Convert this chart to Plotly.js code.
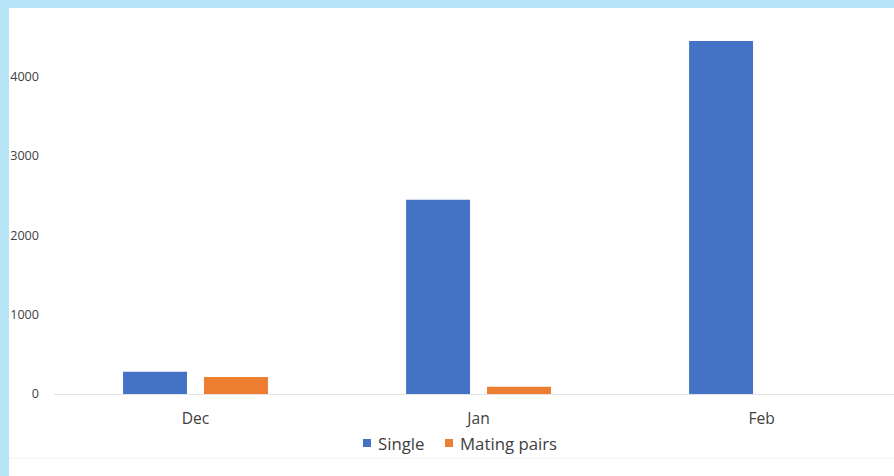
<!DOCTYPE html>
<html>
<head>
<meta charset="utf-8">
<script src="https://cdn.plot.ly/plotly-3.0.1.min.js"></script>
<style>
  html, body { margin: 0; padding: 0; }
  body { width: 894px; height: 476px; background: #b8e4f8; overflow: hidden; position: relative; }
  #frame { position: absolute; left: 9px; top: 8px; width: 885px; height: 468px; background: #ffffff; overflow: hidden; }
  #chart { position: absolute; left: 0; top: 0; width: 885px; height: 468px; }
</style>
</head>
<body>
<div id="frame"><div id="chart"></div></div>
<script>
// Monthly counts of single individuals and mating pairs
const months = ["Dec", "Jan", "Feb"];
const singleCounts = [280, 2450, 4450];
const matingPairCounts = [215, 90, 0];
const yTicks = [0, 1000, 2000, 3000, 4000];
const seriesNames = ["Single", "Mating pairs"];
const seriesColors = ["#4472c4", "#ed7d31"];

const textColor = "#404040";
const fontFamily = "'Open Sans', 'Liberation Sans', sans-serif";

// Plot-area geometry (pixels inside the chart div)
const W = 885, H = 468;
const M = { l: 45, r: 0, t: 0, b: 82 };
const plotW = W - M.l - M.r;
const plotH = H - M.t - M.b;
const toPaperX = px => (px - M.l) / plotW;
const toPaperY = py => (M.t + plotH - py) / plotH;

const traces = [
  {
    type: "bar",
    name: seriesNames[0],
    x: months,
    y: singleCounts,
    marker: { color: seriesColors[0] }
  },
  {
    type: "bar",
    name: seriesNames[1],
    x: months,
    y: matingPairCounts,
    marker: { color: seriesColors[1] }
  }
];

// Legend row below the axis: small square swatch followed by the series name
const legendRow = { y: 435, swatch: 8, items: [354, 436], textGap: 6 };
const legendShapes = seriesNames.map((name, i) => ({
  type: "rect",
  xref: "paper",
  yref: "paper",
  x0: toPaperX(legendRow.items[i]),
  x1: toPaperX(legendRow.items[i] + legendRow.swatch),
  y0: toPaperY(legendRow.y - legendRow.swatch / 2),
  y1: toPaperY(legendRow.y + legendRow.swatch / 2),
  fillcolor: seriesColors[i],
  line: { width: 0 }
}));
const legendLabels = seriesNames.map((name, i) => ({
  xref: "paper",
  yref: "paper",
  x: toPaperX(legendRow.items[i] + legendRow.swatch + legendRow.textGap),
  y: toPaperY(legendRow.y),
  xanchor: "left",
  yanchor: "middle",
  text: name,
  showarrow: false,
  borderpad: 0,
  font: { size: 16.8, color: textColor, family: fontFamily }
}));

const layout = {
  width: W,
  height: H,
  margin: { l: M.l, r: M.r, t: M.t, b: M.b, pad: 0 },
  paper_bgcolor: "#ffffff",
  plot_bgcolor: "#ffffff",
  font: { family: fontFamily, color: textColor },
  barmode: "group",
  bargap: 0.428,
  bargroupgap: 0.21,
  showlegend: false,
  xaxis: {
    type: "category",
    range: [-0.5, 2.468],
    showgrid: false,
    zeroline: false,
    showline: true,
    linecolor: "#e2e2e2",
    linewidth: 1,
    ticks: "",
    ticklabelstandoff: 10,
    tickfont: { size: 15.6, color: textColor, family: fontFamily },
    fixedrange: true
  },
  yaxis: {
    range: [0, 4866],
    tickmode: "array",
    tickvals: yTicks,
    ticktext: yTicks.map(String),
    showgrid: false,
    zeroline: false,
    showline: false,
    ticks: "",
    ticklabelstandoff: 14,
    tickfont: { size: 12.6, color: textColor, family: fontFamily },
    fixedrange: true
  },
  shapes: [
    {
      type: "line",
      xref: "paper",
      yref: "paper",
      x0: toPaperX(0),
      x1: 1,
      y0: toPaperY(450),
      y1: toPaperY(450),
      line: { color: "#f1f1f1", width: 1 }
    }
  ].concat(legendShapes),
  annotations: legendLabels
};

Plotly.newPlot("chart", traces, layout, { staticPlot: true, displayModeBar: false });
</script>
</body>
</html>
